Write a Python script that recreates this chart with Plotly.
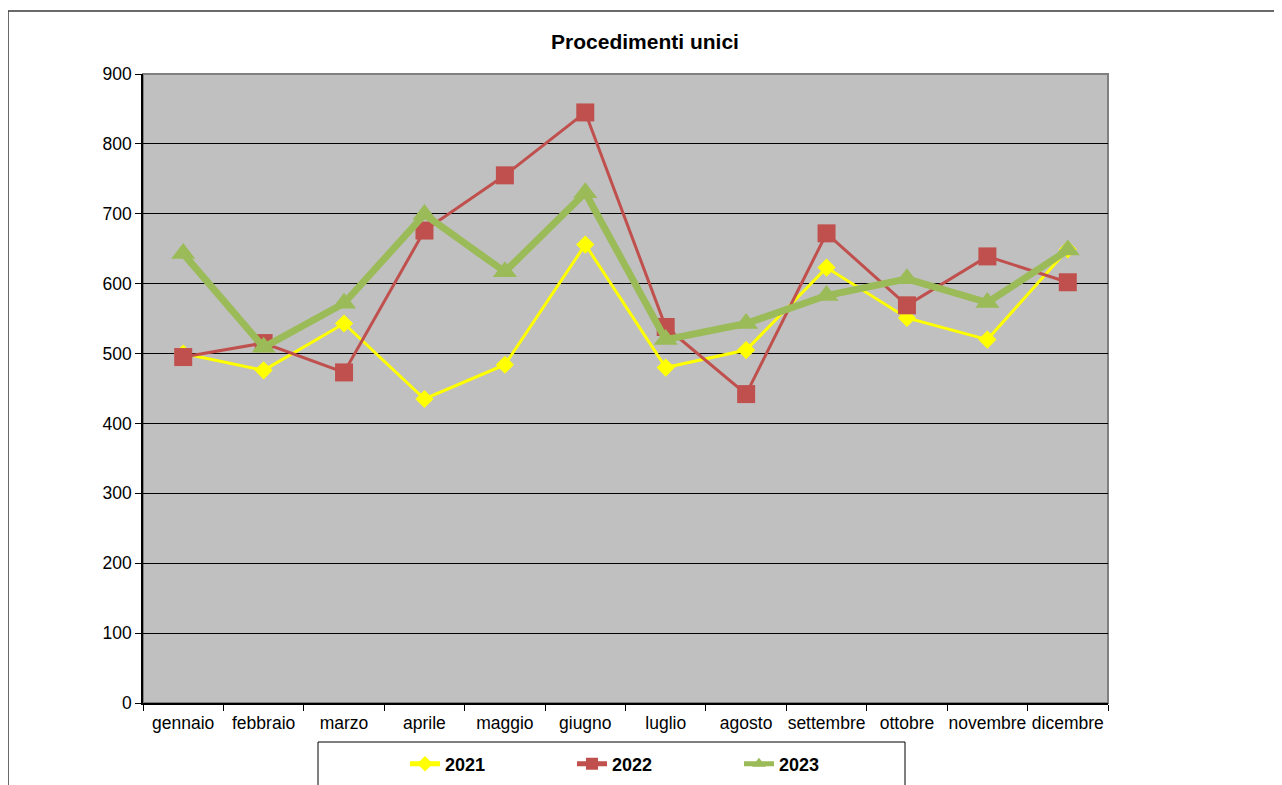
import plotly.graph_objects as go

months = ["gennaio", "febbraio", "marzo", "aprile", "maggio", "giugno",
          "luglio", "agosto", "settembre", "ottobre", "novembre", "dicembre"]
v2021 = [500, 476, 543, 435, 484, 656, 480, 505, 623, 551, 520, 649]
v2022 = [495, 515, 473, 676, 755, 845, 538, 442, 672, 569, 639, 602]
v2023 = [643, 509, 572, 699, 617, 730, 520, 543, 583, 607, 573, 648]
title_text = "Procedimenti unici"

# page has 8px body margin; work in page coordinates and convert
OFF = 8
W, H = 1282 - OFF, 785 - OFF
L, R, T, B = 143, 1108, 74, 703          # page coords of plot area
pw, ph = R - L, B - T
def px(x): return (x - L) / pw
def py(y): return (B - y) / ph
def cx(x): return (x - OFF) / W
def cy(y): return 1 - (y - OFF) / H

FONT = "Liberation Sans, Arial, sans-serif"

fig = go.Figure()
fig.add_trace(go.Scatter(x=months, y=v2021, name="2021", mode="lines+markers",
                         line=dict(color="#FFFF00", width=3),
                         marker=dict(symbol="diamond", size=14, color="#FFFF00")))
fig.add_trace(go.Scatter(x=months, y=v2022, name="2022", mode="lines+markers",
                         line=dict(color="#C0504D", width=3),
                         marker=dict(symbol="square", size=18, color="#C0504D")))
fig.add_trace(go.Scatter(x=months, y=v2023, name="2023", mode="lines+markers",
                         line=dict(color="#9BBB59", width=7),
                         marker=dict(symbol="triangle-up", size=21, color="#9BBB59")))

shapes = [
    # chart border
    dict(type="rect", xref="paper", yref="paper", x0=px(8), x1=px(1280), y0=py(800), y1=py(11),
         line=dict(color="#3a3a3a", width=1.5), layer="below"),
    # plot area frame (gray top/right)
    dict(type="rect", xref="paper", yref="paper", x0=0, x1=1, y0=0, y1=1,
         line=dict(color="#808080", width=2), layer="below"),
    # legend box
    dict(type="rect", xref="paper", yref="paper", x0=px(318), x1=px(905), y0=py(800), y1=py(742),
         line=dict(color="#000000", width=1), fillcolor="white", layer="below"),
]

fig.update_layout(
    width=W, height=H,
    margin=dict(l=L - OFF, r=(W + OFF) - R, t=T - OFF, b=(H + OFF) - B, autoexpand=False),
    paper_bgcolor="white",
    plot_bgcolor="#C0C0C0",
    font=dict(family=FONT, size=17.5, color="#000000"),
    title=dict(text="<b>" + title_text + "</b>", font=dict(size=21, family=FONT, color="#000"),
               x=px(645), xref="paper", xanchor="center",
               y=cy(42), yref="container", yanchor="middle"),
    xaxis=dict(type="category", range=[-0.5, 11.5], showgrid=False,
               showline=True, linecolor="#000000", linewidth=1.5,
               ticks="outside", tickson="boundaries", ticklen=6, tickcolor="#000",
               tickangle=0, automargin=False, ticklabelstandoff=3,
               tickfont=dict(size=17.5, family=FONT, color="#000"), fixedrange=True),
    yaxis=dict(range=[0, 900], dtick=100, showgrid=True, gridcolor="#000000", gridwidth=1,
               showline=True, linecolor="#000000", linewidth=1.5, zeroline=False,
               ticks="outside", ticklen=6, tickcolor="#000", automargin=False,
               tickfont=dict(size=17.5, family=FONT, color="#000"), fixedrange=True),
    showlegend=True,
    legend=dict(orientation="h", xref="container", yref="container",
                x=cx(405), xanchor="left", y=cy(764), yanchor="middle",
                bgcolor="rgba(0,0,0,0)", borderwidth=0,
                font=dict(size=18, family=FONT, color="#000", weight="bold"),
                entrywidth=122, entrywidthmode="pixels", itemsizing="constant",
                traceorder="normal"),
    shapes=shapes,
)

fig.write_html("out.html")
